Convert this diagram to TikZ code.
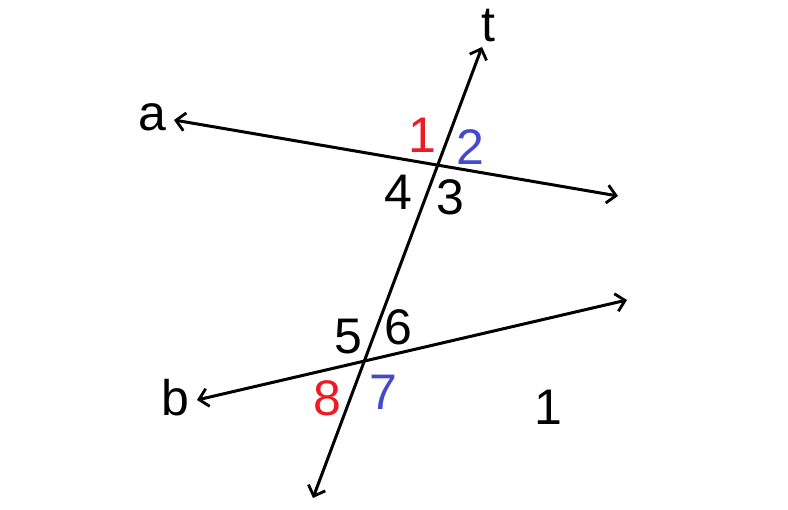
\documentclass[tikz,border=0pt]{standalone}
\usepackage{fontspec}
\setmainfont{Liberation Sans}
\usetikzlibrary{arrows.meta}
\definecolor{lred}{RGB}{237,28,36}
\definecolor{lblue}{RGB}{68,74,204}
\tikzset{
  ln/.style={line width=3pt, {Straight Barb[length=9pt,width=18pt,line width=2.8pt]}-{Straight Barb[length=9pt,width=18pt,line width=2.8pt]}},
  lbl/.style={inner sep=0pt, anchor=center, font=\fontsize{50}{58}\selectfont},
}
\begin{document}
\begin{tikzpicture}[x=1pt,y=-1pt]
\useasboundingbox (0,0) rectangle (788,510);
\coordinate (a1) at (174,120);
\coordinate (a2) at (618,196);
\coordinate (t1) at (313,498);
\coordinate (t2) at (482,47);
\coordinate (b1) at (197,400);
\coordinate (b2) at (627,300);
\draw[ln] (a1) -- (a2);
\draw[ln] (t1) -- (t2);
\draw[ln] (b1) -- (b2);
\node[lbl] (lt) at (488,26) {t};
\node[lbl] (la) at (152,117) {a};
\node[lbl] (lb) at (175,398) {b};
\node[lbl,text=lred] (n1) at (422,135) {1};
\node[lbl,text=lblue] (n2) at (470,147) {2};
\node[lbl] (n4) at (398,192) {4};
\node[lbl] (n3) at (450,197) {3};
\node[lbl] (n5) at (348,337) {5};
\node[lbl] (n6) at (398,327) {6};
\node[lbl,text=lred] (n8) at (327,398) {8};
\node[lbl,text=lblue] (n7) at (383,392) {7};
\node[lbl] (n1b) at (548,407) {1};
\end{tikzpicture}
\end{document}
